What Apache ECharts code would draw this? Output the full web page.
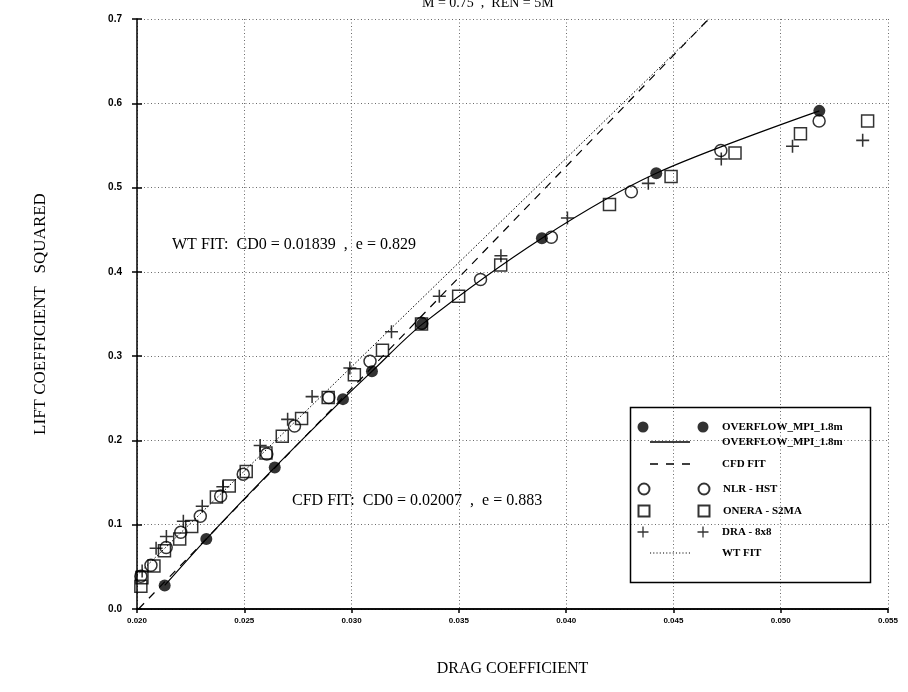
<!DOCTYPE html>
<html>
<head>
<meta charset="utf-8">
<script src="https://cdn.jsdelivr.net/npm/echarts@6/dist/echarts.min.js"></script>
<style>html,body{margin:0;padding:0;background:#fff;}#c{width:908px;height:692px;}</style>
</head>
<body>
<div id="c"></div>
<script>
// ---- data ----
const xTickLabels = ['0.020','0.025','0.030','0.035','0.040','0.045','0.050','0.055'];
const yTickLabels = ['0.0','0.1','0.2','0.3','0.4','0.5','0.6','0.7'];
const overflowPts = [[0.02129,0.028],[0.02323,0.083],[0.02642,0.168],[0.02960,0.249],[0.03095,0.282],[0.03330,0.338],[0.03887,0.440],[0.04420,0.517],[0.05180,0.591]];
const nlrHst = [[0.02018,0.039],[0.02065,0.052],[0.02136,0.073],[0.02204,0.091],[0.02295,0.110],[0.02390,0.134],[0.02495,0.160],[0.02605,0.184],[0.02734,0.217],[0.02894,0.251],[0.03086,0.294],[0.03326,0.339],[0.03601,0.391],[0.03931,0.441],[0.04304,0.495],[0.04721,0.544],[0.05179,0.579]];
const oneraS2ma = [[0.02018,0.027],[0.02023,0.037],[0.02079,0.051],[0.02128,0.069],[0.02199,0.083],[0.02255,0.098],[0.02370,0.133],[0.02430,0.146],[0.02509,0.163],[0.02601,0.185],[0.02677,0.205],[0.02767,0.226],[0.02891,0.251],[0.03013,0.278],[0.03144,0.307],[0.03326,0.338],[0.03499,0.371],[0.03695,0.408],[0.04202,0.480],[0.04489,0.513],[0.04787,0.541],[0.05092,0.564],[0.05405,0.579]];
const dra8x8 = [[0.02024,0.045],[0.02089,0.072],[0.02137,0.086],[0.02216,0.104],[0.02304,0.122],[0.02400,0.145],[0.02574,0.194],[0.02702,0.225],[0.02816,0.252],[0.02992,0.286],[0.03186,0.329],[0.03409,0.371],[0.03696,0.419],[0.04006,0.464],[0.04383,0.505],[0.04723,0.534],[0.05055,0.549],[0.05382,0.556]];
const cfdFit = [[0.02007,0.0],[0.04664,0.70]];
const wtFit = [[0.0200,0.040],[0.04668,0.70]];
const seriesNames = ['OVERFLOW_MPI_1.8m','OVERFLOW_MPI_1.8m line','CFD FIT','NLR - HST','ONERA - S2MA','DRA - 8x8','WT FIT'];

const chart = echarts.init(document.getElementById('c'));
const serif = 'Liberation Serif';
const plusPath = 'path://M4.4,0h1.2v4.4h4.4v1.2h-4.4v4.4h-1.2v-4.4h-4.4v-1.2h4.4z';
const gridLine = {show:true, lineStyle:{color:'#444', width:0.8, type:[1,2.5]}};
const tickLbl = {fontFamily:'Liberation Sans', fontWeight:'bold', fontSize:9, color:'#000'};

// legend line icons: 40 x 11 boxes, stroke in the middle (corner specks fix the box)
const boxPad = 'M0,0h0.01v0.01h-0.01zM39.99,10.99h0.01v0.01h-0.01z';
const solidIcon = 'path://' + boxPad + 'M0,4.8h40v1.4h-40z';
const dashIcon = 'path://' + boxPad + 'M0,4.8h8v1.4h-8zM16,4.8h8v1.4h-8zM32,4.8h8v1.4h-8z';
let dotP = 'path://' + boxPad;
for (let k = 0; k < 13; k++) { dotP += 'M' + (k * 3.25).toFixed(2) + ',4.9h1.1v1.1h-1.1z'; }
const dotIcon = dotP;

function legendRow(name, left, top, w, textPad, showText, icon){
  const lg = {
    data:[icon ? {name:name, icon:icon} : name],
    left:left, top:top, itemWidth:w, itemHeight:11, orient:'vertical',
    selectedMode:false, padding:0, itemGap:0,
    formatter: showText ? (n => n.replace(' line','')) : (() => ''),
    textStyle:{fontFamily:serif, fontWeight:'bold', fontSize:11, color:'#000', padding:[0,0,0,textPad]}
  };
  if (icon) lg.itemStyle = {color:'#000', borderWidth:0, opacity:1};
  return lg;
}

const option = {
  animation:false,
  backgroundColor:'#fff',
  grid:{left:137, top:19, width:751, height:590},
  xAxis:[{
    type:'value', min:0.020, max:0.055, interval:0.005,
    axisLine:{show:true, lineStyle:{color:'#000', width:1.5}},
    axisTick:{show:true, length:4, lineStyle:{color:'#000', width:1.5}},
    axisLabel:{...tickLbl, fontSize:8, margin:8, formatter:(v,i)=>xTickLabels[i]},
    splitLine:gridLine,
    name:'DRAG COEFFICIENT', nameLocation:'middle', nameGap:52,
    nameTextStyle:{fontFamily:serif, fontSize:16, color:'#000'}
  },{
    type:'value', min:0.020, max:0.055, interval:0.005, position:'top',
    axisLine:{show:true, lineStyle:{color:'#000', width:1.5}},
    axisTick:{show:false}, axisLabel:{show:false}, splitLine:{show:false}
  }],
  yAxis:[{
    type:'value', min:0, max:0.7, interval:0.1,
    axisLine:{show:true, lineStyle:{color:'#000', width:1.5}},
    axisTick:{show:true, length:5, lineStyle:{color:'#000', width:1.5}},
    axisLabel:{...tickLbl, fontSize:10, margin:15, formatter:(v,i)=>yTickLabels[i]},
    splitLine:gridLine,
    name:'LIFT COEFFICIENT   SQUARED', nameLocation:'middle', nameGap:88,
    nameTextStyle:{fontFamily:serif, fontSize:17, color:'#000'}
  },{
    type:'value', min:0, max:0.7, interval:0.1, position:'left',
    axisLine:{show:false},
    axisTick:{show:true, inside:true, length:5, lineStyle:{color:'#000', width:1.5}},
    axisLabel:{show:false}, splitLine:{show:false}
  }],
  legend:[
    legendRow(seriesNames[0], 637.5, 421.5, 11, 0, false),
    legendRow(seriesNames[0], 697.5, 421.5, 11, 8.5, true),
    legendRow(seriesNames[1], 650, 436.5, 40, 27, true, solidIcon),
    legendRow(seriesNames[2], 650, 458.5, 40, 27, true, dashIcon),
    legendRow(seriesNames[3], 637.5, 482.5, 11, 0, false),
    legendRow(seriesNames[3], 697.5, 482.5, 11, 8.5, true),
    legendRow(seriesNames[4], 637.5, 504.5, 11, 0, false),
    legendRow(seriesNames[4], 697.5, 504.5, 11, 8.5, true),
    legendRow(seriesNames[5], 637.5, 526.5, 11, 0, false),
    legendRow(seriesNames[5], 697.5, 526.5, 11, 8.5, true),
    legendRow(seriesNames[6], 650, 547.5, 40, 27, true, dotIcon)
  ],
  graphic:[
    {type:'rect', left:628, top:405, shape:{width:240, height:175}, style:{fill:'none', stroke:'#000', lineWidth:1.5}, z:100},
    {type:'text', left:172, top:237, style:{text:'WT FIT:  CD0 = 0.01839  ,  e = 0.829', font:'16px "Liberation Serif"', fill:'#000'}},
    {type:'text', left:292, top:493, style:{text:'CFD FIT:  CD0 = 0.02007  ,  e = 0.883', font:'16px "Liberation Serif"', fill:'#000'}},
    {type:'text', left:422, top:-4, style:{text:'M = 0.75  ,  REN = 5M', font:'14px "Liberation Serif"', fill:'#000'}}
  ],
  series:[
    {name:seriesNames[1], type:'line', data:overflowPts, smooth:0.3, symbol:'none',
     lineStyle:{color:'#000', width:1.2}, itemStyle:{color:'#000'}, z:3},
    {name:seriesNames[2], type:'line', data:cfdFit, symbol:'none',
     lineStyle:{color:'#000', width:1.2, type:[8,7]}, itemStyle:{color:'#000'}, z:2},
    {name:seriesNames[6], type:'line', data:wtFit, symbol:'none',
     lineStyle:{color:'#000', width:1, type:[1.5,2]}, itemStyle:{color:'#000'}, z:2},
    {name:seriesNames[0], type:'scatter', data:overflowPts, symbol:'circle', symbolSize:12,
     itemStyle:{color:'#000'}, z:5},
    {name:seriesNames[3], type:'scatter', data:nlrHst, symbol:'circle', symbolSize:12,
     itemStyle:{color:'rgba(255,255,255,0)', borderColor:'#000', borderWidth:1.5}, z:4},
    {name:seriesNames[4], type:'scatter', data:oneraS2ma, symbol:'rect', symbolSize:12,
     itemStyle:{color:'rgba(255,255,255,0)', borderColor:'#000', borderWidth:1.5}, z:4},
    {name:seriesNames[5], type:'scatter', data:dra8x8, symbol:plusPath, symbolSize:13,
     itemStyle:{color:'#000'}, z:4}
  ]
};
chart.setOption(option);
</script>
</body>
</html>
